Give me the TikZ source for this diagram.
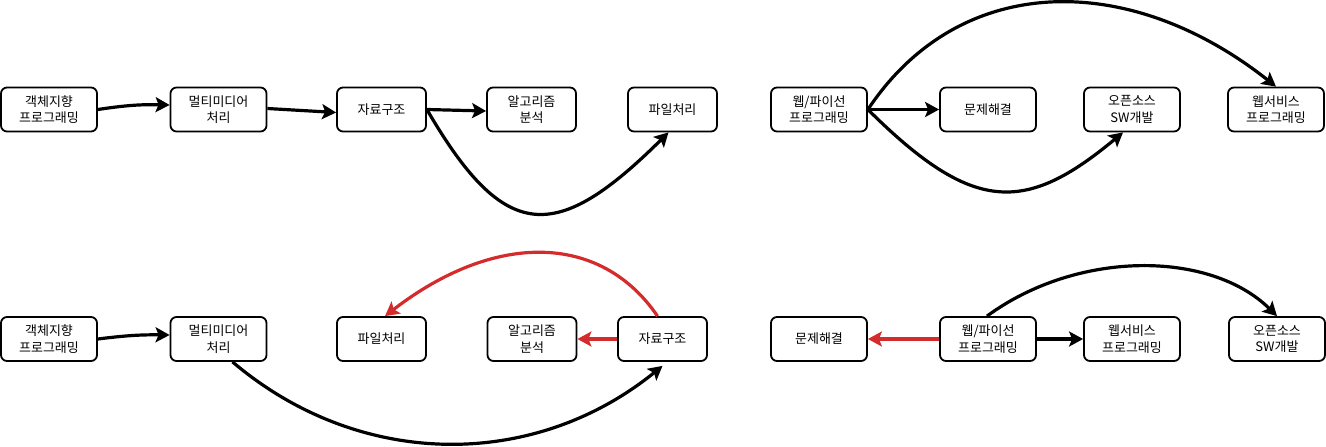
\documentclass[tikz,border=0pt]{standalone}
\usepackage{fontspec}
\setmainfont{Noto Sans CJK KR}
\usetikzlibrary{arrows.meta}
\definecolor{edgered}{RGB}{212,44,44}
\begin{document}
\begin{tikzpicture}[x=1pt,y=-1pt,
  box/.style={draw=black, line width=1.8pt, rounded corners=6pt, minimum height=44pt,
    align=center, inner sep=0pt, font=\fontsize{13}{16.5}\selectfont},
  wbox/.style={box, minimum width=96pt},
  nbox/.style={box, minimum width=89pt},
  conn/.style={line width=3.2pt, -{Stealth[length=14pt,width=15pt,inset=3pt]}},
  redconn/.style={conn, draw=edgered, -{Stealth[length=14pt,width=15pt,inset=3pt,fill=edgered]}}
]
\useasboundingbox (0,0) rectangle (1326,447);

% top-left
\node[wbox] (a1) at (49,109.5) {객체지향\\프로그래밍};
\node[wbox] (a2) at (218.5,109.5) {멀티미디어\\처리};
\node[nbox] (a3) at (381.5,109.5) {자료구조};
\node[nbox] (a4) at (531.5,109.5) {알고리즘\\분석};
\node[nbox] (a5) at (672.5,109.5) {파일처리};

% top-right
\node[wbox] (b1) at (819,109.5) {웹/파이선\\프로그래밍};
\node[wbox] (b2) at (988,109.5) {문제해결};
\node[wbox] (b3) at (1132,109.5) {오픈소스\\SW개발};
\node[wbox] (b4) at (1276,109.5) {웹서비스\\프로그래밍};

% bottom-left
\node[wbox] (c1) at (49,339) {객체지향\\프로그래밍};
\node[wbox] (c2) at (218.5,339) {멀티미디어\\처리};
\node[nbox] (c3) at (381.5,339) {파일처리};
\node[nbox] (c4) at (532,339) {알고리즘\\분석};
\node[nbox] (c5) at (662.5,339) {자료구조};

% bottom-right
\node[wbox] (d1) at (819,339) {문제해결};
\node[wbox] (d2) at (988,339) {웹/파이선\\프로그래밍};
\node[wbox] (d3) at (1132,339) {웹서비스\\프로그래밍};
\node[wbox] (d4) at (1277,339) {오픈소스\\SW개발};

% top-left connectors
\draw[conn] (a1.east) to[bend left=5] ([yshift=4.5]a2.west);
\draw[conn] ([yshift=1]a2.east) -- ([yshift=-3]a3.west);
\draw[conn] (a3.east) -- ([yshift=-1.5]a4.west);
\draw[conn] (a3.east) .. controls (505,244) and (556,244) .. ([xshift=-4]a5.south);

% top-right connectors
\draw[conn] (b1.east) .. controls (960,-29) and (1130,-29) .. (b4.north);
\draw[conn] (b1.east) -- (b2.west);
\draw[conn] (b1.east) .. controls (973,214) and (1025,214) .. ([xshift=-9]b3.south);

% bottom-left connectors
\draw[conn] (c1.east) to[bend left=4] ([yshift=4]c2.west);
\draw[conn] ([xshift=14]c2.south) .. controls (360,470) and (534,470) .. ([yshift=-4]c5.south);
\draw[redconn] ([xshift=-5]c5.north) .. controls (600,232) and (494,232) .. ([xshift=3.5]c3.north);
\draw[redconn] (c5.west) -- (c4.east);

% bottom-right connectors
\draw[redconn] (d2.west) -- (d1.east);
\draw[conn] (d2.east) -- (d3.west);
\draw[conn] ([xshift=-1]d2.north) .. controls (1077,250) and (1210,250) .. (d4.north);
\end{tikzpicture}
\end{document}
